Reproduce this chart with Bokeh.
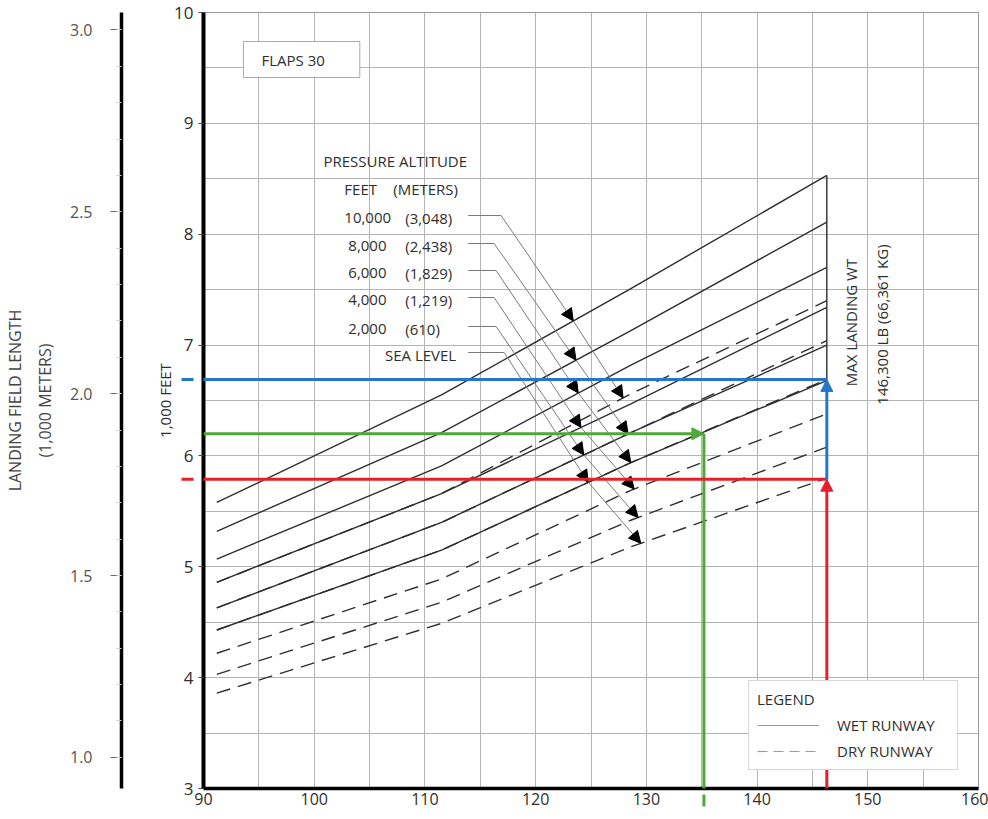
import numpy as np
from bokeh.plotting import figure
from bokeh.models import (Range1d, LinearAxis, FixedTicker, Arrow, NormalHead, Label,
                          Legend, LegendItem, ColumnDataSource, PrintfTickFormatter)
from bokeh.embed import file_html
from bokeh.resources import INLINE

FONT = "Open Sans"
INK = "#2e2e2e"

# ------------------------------------------------------------------ data
weight_1000lb = [91.2, 111.5, 128.6, 146.3]      # landing weight (1,000 LB)

# wet runway, landing field length (1,000 FEET)
wet_10000 = [5.58, 6.55, 7.51, 8.53]
wet_8000 = [5.32, 6.21, 7.13, 8.11]
wet_6000 = [5.07, 5.91, 6.82, 7.70]
wet_4000 = [4.86, 5.66, 6.47, 7.34]
wet_2000 = [4.63, 5.40, 6.21, 7.00]
wet_sea = [4.43, 5.15, 5.94, 6.68]

# dry runway
dry_10000 = [4.86, 5.66, 6.56, 7.40]
dry_8000 = [4.63, 5.40, 6.21, 7.04]
dry_6000 = [4.43, 5.15, 5.94, 6.69]
dry_4000 = [4.22, 4.89, 5.69, 6.38]
dry_2000 = [4.03, 4.68, 5.42, 6.08]
dry_sea = [3.86, 4.49, 5.18, 5.80]

alt_feet = ["10,000", "8,000", "6,000", "4,000", "2,000", "SEA LEVEL"]
alt_meters = ["(3,048)", "(2,438)", "(1,829)", "(1,219)", "(610)", ""]
callout_wet_weight = [123.4, 123.65, 123.85, 124.1, 124.35, 124.75]
callout_dry_weight = [127.9, 128.35, 128.6, 128.9, 129.25, 129.5]

max_landing_wt = 146.3
example_weight = 135.2
example_length = 6.20       # green example
max_wt_wet_length = 6.69    # blue
max_wt_dry_length = 5.79    # red

x_ticks = [90, 100, 110, 120, 130, 140, 150, 160]
ft_ticks = [3, 4, 5, 6, 7, 8, 9, 10]
m_ticks = [1.0, 1.5, 2.0, 2.5, 3.0]
FT_PER_M = 3.28084

# ------------------------------------------------------------------ layout helpers (page px -> data)
FX0, FX1, FY0, FY1 = 202, 978, 788, 12
def dx(px):
    return 90 + (px - FX0) * 70 / (FX1 - FX0)
def dy(py):
    return 3 + (FY0 - py) * 7 / (FY0 - FY1)

p = figure(width=988, height=819, x_range=Range1d(90, 160), y_range=Range1d(3, 10),
           output_backend="svg", toolbar_location=None,
           min_border_left=202, min_border_right=10, min_border_top=12, min_border_bottom=31,
           background_fill_color="white", border_fill_color="white")
p.outline_line_color = "#9a9a9a"
p.outline_line_width = 1

# grids
p.xgrid.ticker = FixedTicker(ticks=list(np.arange(95, 160, 5)))
p.ygrid.ticker = FixedTicker(ticks=list(np.arange(3.5, 10, 0.5)))
for g in (p.xgrid[0], p.ygrid[0]):
    g.grid_line_color = "#b4b4b4"
    g.grid_line_width = 1

# x axis
xa = p.xaxis[0]
xa.ticker = FixedTicker(ticks=x_ticks)
xa.axis_line_color = "black"
xa.axis_line_width = 3.5
xa.major_tick_out = 0
xa.major_tick_in = 0
xa.minor_tick_out = 0
xa.minor_tick_in = 0
xa.major_label_standoff = 4
xa.major_label_text_font = FONT
xa.major_label_text_font_size = "16px"
xa.major_label_text_color = INK

# feet axis
fa = p.yaxis[0]
fa.ticker = FixedTicker(ticks=ft_ticks)
fa.axis_line_color = "black"
fa.axis_line_width = 4
fa.major_tick_out = 5
fa.major_tick_in = 0
fa.minor_tick_out = 0
fa.minor_tick_in = 0
fa.major_tick_line_color = "#444"
fa.major_label_standoff = 5
fa.major_label_text_font = FONT
fa.major_label_text_font_size = "17px"
fa.major_label_text_color = INK
fa.axis_label = "1,000 FEET"
fa.axis_label_standoff = -4
fa.axis_label_text_font = FONT
fa.axis_label_text_font_size = "15px"
fa.axis_label_text_font_style = "normal"
fa.axis_label_text_color = INK

# invisible spacer between the two left axes
spacer = LinearAxis(ticker=FixedTicker(ticks=[5]), axis_line_color=None,
                    major_tick_out=31, major_tick_in=0, minor_tick_out=0, minor_tick_in=0,
                    major_tick_line_color="white", minor_tick_line_color=None,
                    major_label_standoff=0, major_label_text_font_size="1px",
                    major_label_text_alpha=0)
p.add_layout(spacer, "left")

# meters axis
p.extra_y_ranges = {"meters": Range1d(3 / FT_PER_M, 10 / FT_PER_M)}
ma = LinearAxis(y_range_name="meters",
                ticker=FixedTicker(ticks=m_ticks,
                                   minor_ticks=list(np.round(np.arange(1.0, 3.01, 0.1), 1))),
                formatter=PrintfTickFormatter(format="%.1f"))
ma.axis_line_color = "black"
ma.axis_line_width = 3.5
ma.major_tick_out = 11
ma.major_tick_in = 0
ma.minor_tick_out = 5
ma.minor_tick_in = 0
ma.major_tick_line_color = "#666"
ma.minor_tick_line_color = "#d0d0d0"
ma.major_label_standoff = 18
ma.major_label_text_font = FONT
ma.major_label_text_font_size = "16px"
ma.major_label_text_color = "#555"
ma.axis_label = "LANDING FIELD LENGTH\n(1,000 METERS)"
ma.axis_label_standoff = 11
ma.axis_label_text_font = FONT
ma.axis_label_text_font_size = "16px"
ma.axis_label_text_font_style = "normal"
ma.axis_label_text_color = "#444"
ma.axis_label_text_line_height = 1.38
p.add_layout(ma, "left")

# ------------------------------------------------------------------ curves
wet_series = [wet_10000, wet_8000, wet_6000, wet_4000, wet_2000, wet_sea]
dry_series = [dry_10000, dry_8000, dry_6000, dry_4000, dry_2000, dry_sea]
for ys in dry_series:
    p.line(weight_1000lb, ys, line_color=INK, line_width=1.4, line_dash="14 8")
for ys in wet_series:
    p.line(weight_1000lb, ys, line_color=INK, line_width=1.4)

# max landing weight line
p.line([max_landing_wt, max_landing_wt], [3, wet_10000[-1]], line_color=INK, line_width=1.4)

# legend-only renderers (nothing drawn in the plot)
wet_leg = p.line(x=[np.nan, np.nan], y=[np.nan, np.nan], line_color="#9a9a9a", line_width=1.2)
dry_leg = p.line(x=[np.nan, np.nan], y=[np.nan, np.nan], line_color="#9a9a9a", line_width=1.2,
                 line_dash="10 6")
legend = Legend(items=[LegendItem(label="WET RUNWAY", renderers=[wet_leg]),
                       LegendItem(label="DRY RUNWAY", renderers=[dry_leg])],
                title="LEGEND", location=(545, 18), margin=0, padding=8,
                glyph_width=62, glyph_height=20, label_width=112, label_height=20,
                label_standoff=18, spacing=6, title_standoff=6,
                border_line_color="#b0b0b0", border_line_width=1,
                background_fill_color="white", background_fill_alpha=1,
                title_text_font=FONT, title_text_font_size="15px",
                title_text_font_style="normal", title_text_color=INK,
                label_text_font=FONT, label_text_font_size="15px", label_text_color=INK)
p.add_layout(legend)

# ------------------------------------------------------------------ pressure altitude callouts
rows_py = [215, 243, 270, 297, 326, 352]
bend_px = [500, 493, 495, 493, 495, 503]
lead_y = [dy(v) for v in rows_py]
bend_x = [dx(b) for b in bend_px]
wet_tip_y = [float(np.interp(x, weight_1000lb, s)) for x, s in zip(callout_wet_weight, wet_series)]
dry_tip_y = [float(np.interp(x, weight_1000lb, s)) for x, s in zip(callout_dry_weight, dry_series)]

p.segment(x0=[dx(467)] * 6, y0=lead_y, x1=bend_x, y1=lead_y, line_color="#7a7a7a", line_width=1)
src1 = ColumnDataSource(dict(x0=bend_x, y0=lead_y, x1=callout_wet_weight, y1=wet_tip_y))
src2 = ColumnDataSource(dict(x0=callout_wet_weight, y0=wet_tip_y, x1=callout_dry_weight, y1=dry_tip_y))
for src in (src1, src2):
    p.add_layout(Arrow(source=src, x_start="x0", y_start="y0", x_end="x1", y_end="y1",
                       line_color="#7a7a7a", line_width=1,
                       end=NormalHead(size=12, fill_color="black", line_color="black", line_width=1)))


def lab(text, px, py, align="left", size="15px", angle=0.0, color=INK, **kw):
    lb = Label(x=dx(px), y=dy(py), text=text, text_align=align, text_baseline="middle",
               text_font=FONT, text_font_size=size, text_color=color, angle=angle, **kw)
    p.add_layout(lb)
    return lb


lab("PRESSURE ALTITUDE", 394, 160, align="center")
lab("FEET", 343, 188)
lab("(METERS)", 392, 188)
feet_left_px = [343, 347, 347, 347, 347]
for i in range(5):
    lab(alt_feet[i], feet_left_px[i], rows_py[i] + 2)
    lab(alt_meters[i], 404, rows_py[i] + 2)
lab(alt_feet[5], 455, rows_py[5] + 2, align="right")

lab("FLAPS 30", 242, 59, border_line_color="#aaaaaa", border_line_width=1,
    background_fill_color="white", padding=dict(left=18, right=35, top=8, bottom=8))
lab("MAX LANDING WT", 850, 322, align="center", angle=np.pi / 2)
lab("146,300 LB (66,361 KG)", 881, 324, align="center", angle=np.pi / 2)

# ------------------------------------------------------------------ example arrows
BLUE, RED, GREEN = "#2477c6", "#e5202b", "#4ea83b"


def arrow(x0, y0, x1, y1, color):
    p.add_layout(Arrow(x_start=x0, y_start=y0, x_end=x1, y_end=y1, line_color=color, line_width=3,
                       end=NormalHead(size=12, fill_color=color, line_color=color, line_width=1)))


left_end = dx(180)
arrow(90, example_length, example_weight, example_length, GREEN)
arrow(example_weight, example_length, example_weight, dy(806), GREEN)
arrow(max_landing_wt, dy(830), max_landing_wt, max_wt_dry_length, RED)
arrow(max_landing_wt, max_wt_dry_length, left_end, max_wt_dry_length, RED)
arrow(max_landing_wt, max_wt_dry_length, max_landing_wt, max_wt_wet_length, BLUE)
arrow(max_landing_wt, max_wt_wet_length, left_end, max_wt_wet_length, BLUE)

open("out.html", "w").write(file_html(p, INLINE))
